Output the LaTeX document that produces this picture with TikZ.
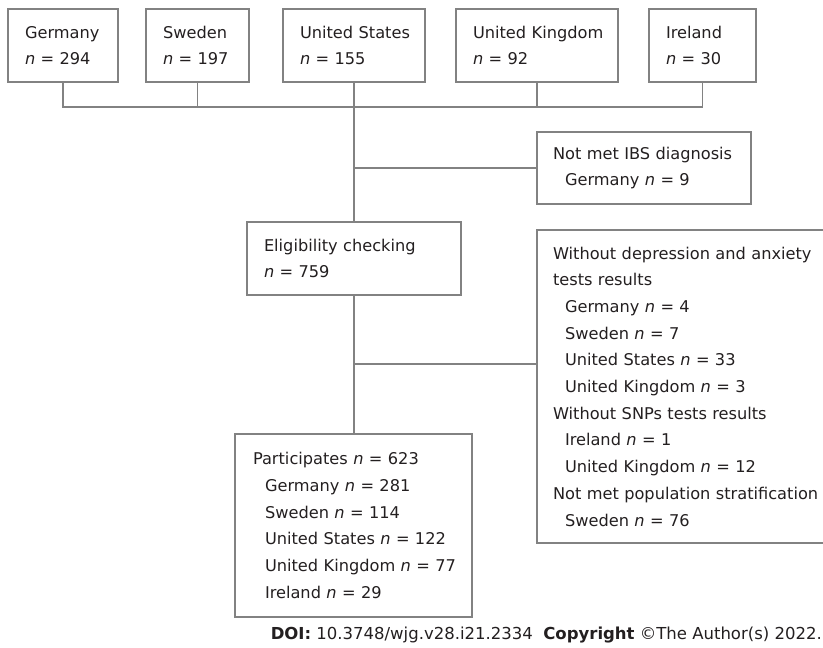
\documentclass[tikz,border=0pt]{standalone}
\usepackage{fontspec}
\setmainfont{DejaVu Sans}
\definecolor{boxline}{RGB}{130,130,130}
\definecolor{txtcol}{RGB}{35,31,32}
\newcommand{\nv}{\textit{n}}
\newcommand{\ind}[1]{\mbox{\hspace*{12pt}#1}}
\tikzset{
  box/.style={draw=boxline,line width=1.1pt,text=txtcol,align=left,
    inner ysep=0pt,font=\fontsize{16.2}{26.7}\selectfont},
  conn/.style={draw=boxline,line width=1.1pt}
}
\begin{document}
\begin{tikzpicture}[x=1pt,y=-1pt]
      \useasboundingbox (0,0) rectangle (823,648);
      \path (63,45.5) node[box,inner xsep=17pt,text width=76pt,minimum height=73pt] (ger) {\mbox{Germany}\\\nv{} = 294};
      \path (197.5,45.5) node[box,inner xsep=17pt,text width=69pt,minimum height=73pt] (swe) {\mbox{Sweden}\\\nv{} = 197};
      \path (354,45.5) node[box,inner xsep=17pt,text width=108pt,minimum height=73pt] (us) {\mbox{United States}\\\nv{} = 155};
      \path (537,45.5) node[box,inner xsep=17pt,text width=128pt,minimum height=73pt] (uk) {\mbox{United Kingdom}\\\nv{} = 92};
      \path (702.5,45.5) node[box,inner xsep=17pt,text width=73pt,minimum height=73pt] (ire) {\mbox{Ireland}\\\nv{} = 30};
      \path (644,168) node[box,inner xsep=16pt,text width=182pt,minimum height=72pt] (ibs) {Not met IBS diagnosis\\\ind{Germany \nv{} = 9}};
      \path (354,258.5) node[box,inner xsep=17pt,text width=180pt,minimum height=73pt] (elig) {Eligibility checking\\\nv{} = 759};
      \path (353.5,525.5) node[box,inner xsep=18pt,text width=201pt,minimum height=183pt] (part) {\mbox{Participates \nv{} = 623}\\\ind{Germany \nv{} = 281}\\\ind{Sweden \nv{} = 114}\\\ind{United States \nv{} = 122}\\\ind{United Kingdom \nv{} = 77}\\\ind{Ireland \nv{} = 29}};
      \begin{scope}
       \clip (0,0) rectangle (823,648);
       \path (688.5,386.5) node[box,inner xsep=16pt,text width=271pt,minimum height=313pt] (excl) {\mbox{Without depression and anxiety}\\tests results\\\ind{Germany \nv{} = 4}\\\ind{Sweden \nv{} = 7}\\\ind{United States \nv{} = 33}\\\ind{United Kingdom \nv{} = 3}\\\mbox{Without SNPs tests results}\\\ind{Ireland \nv{} = 1}\\\ind{United Kingdom \nv{} = 12}\\\mbox{Not met population stratification}\\\ind{Sweden \nv{} = 76}};
      \end{scope}
      \coordinate (bar) at (0,107);
      \coordinate (fork1) at (0,168);
      \coordinate (fork2) at (0,364);
      \draw[conn] (ger.south) -- (ger.south |- bar) -- (ire.south |- bar) -- (ire.south);
      \draw[conn] (swe.south) -- (swe.south |- bar);
      \draw[conn] (uk.south) -- (uk.south |- bar);
      \draw[conn] (us.south) -- (elig.north);
      \draw[conn] (fork1 -| us.south) -- (fork1 -| ibs.west);
      \draw[conn] (fork2 -| elig.south) -- (fork2 -| excl.west);
      \draw[conn] (elig.south) -- (elig.south |- part.north);
      \path (822,635) node[anchor=east,inner sep=0pt,text=txtcol,font=\fontsize{16.5}{19}\selectfont] (doi) {\textbf{DOI:} 10.3748/wjg.v28.i21.2334\ \ \textbf{Copyright} ©The Author(s) 2022.};
\end{tikzpicture}
\end{document}
